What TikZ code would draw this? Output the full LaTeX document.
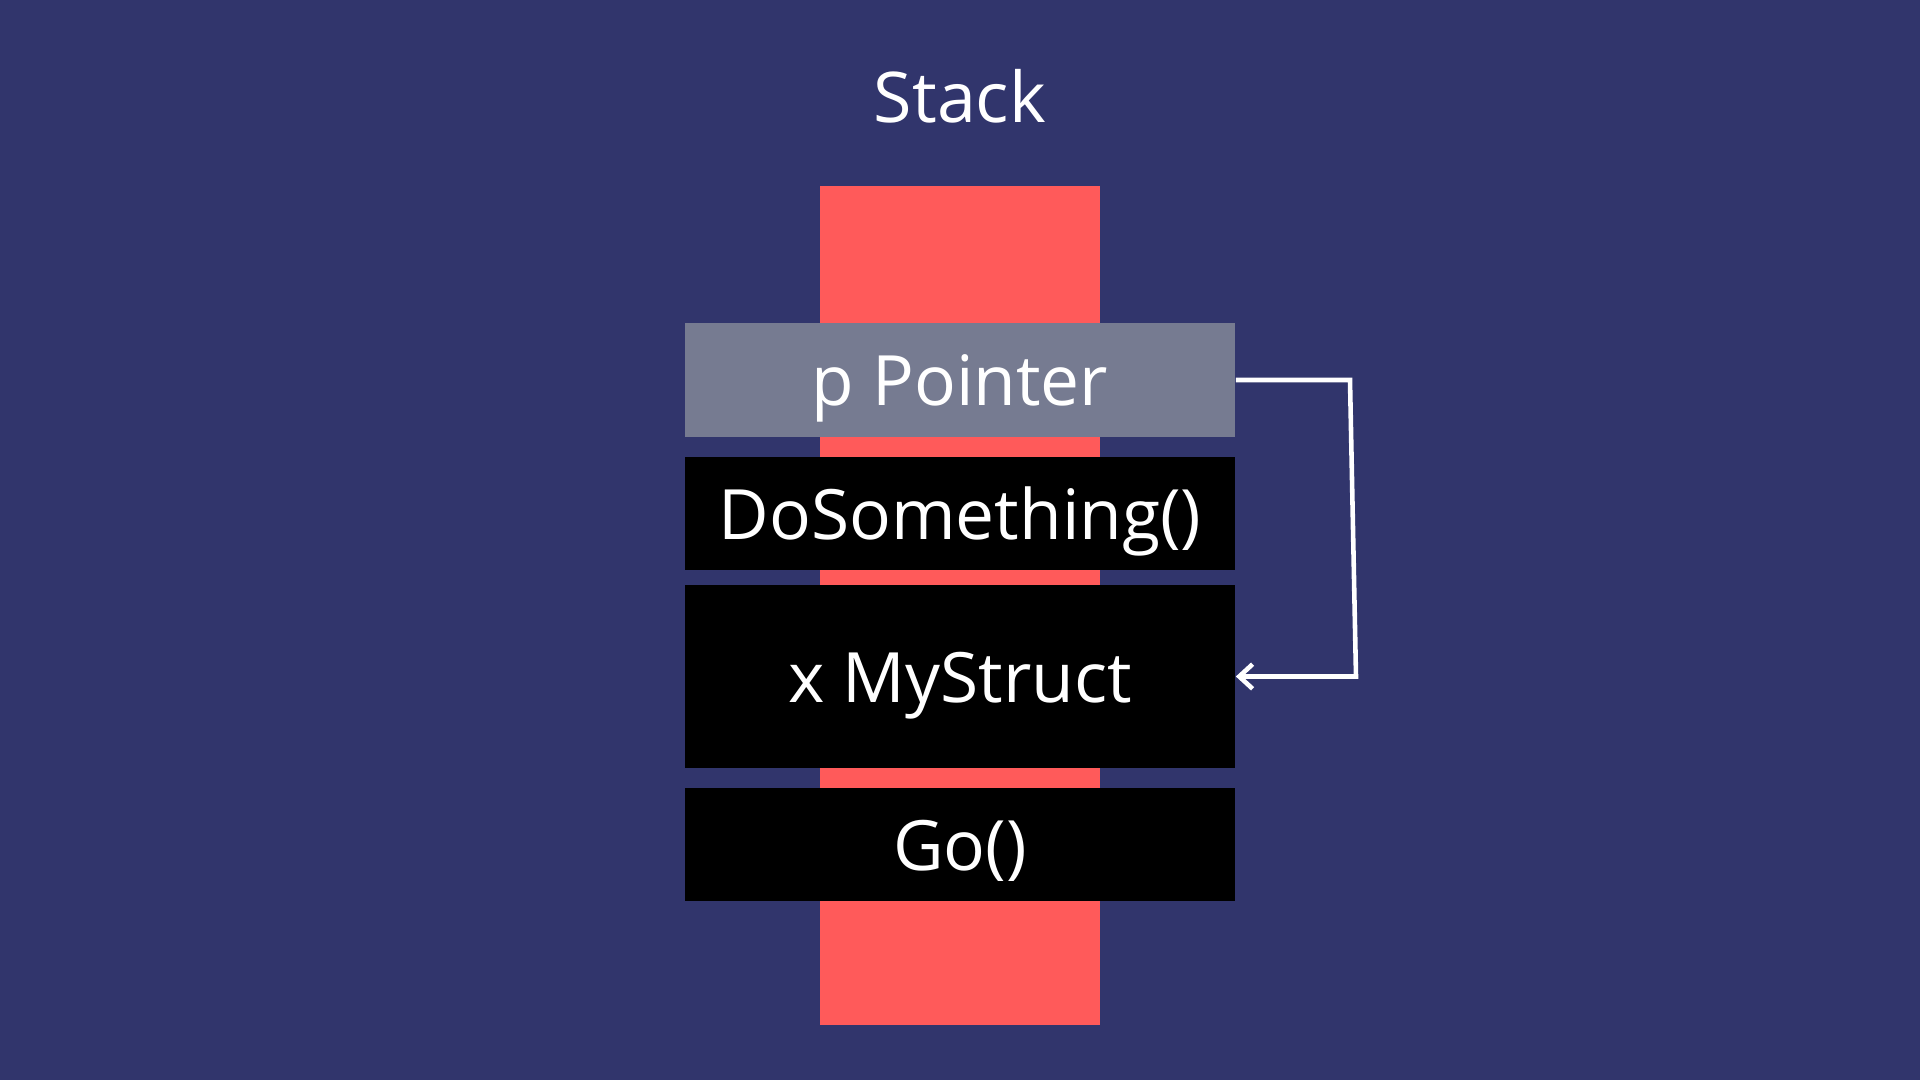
\documentclass[tikz,border=0pt]{standalone}
\usepackage{fontspec}
\setmainfont{Open Sans}
\usetikzlibrary{arrows.meta}
\definecolor{bgblue}{HTML}{31356C}
\definecolor{stackred}{HTML}{FF5A5A}
\definecolor{ptrgray}{HTML}{767B91}
\begin{document}
\begin{tikzpicture}[x=0.01cm, y=-0.01cm, >={Straight Barb[length=3.8pt, width=7pt]},
	frame/.style={rectangle, inner sep=0pt, minimum width=5.5cm, text=white,
		text height=0.51cm, text depth=0pt, font=\fontsize{19.75pt}{24pt}\selectfont},
	every node/.style={inner sep=0pt}]
				% 1. 背景 (固定画布尺寸)
				\fill[bgblue] (0,0) rectangle (1920,1080);
				\useasboundingbox (0,0) rectangle (1920,1080);
				
				% 2. 标题与栈条
				\node[text=white, text height=0.5cm, text depth=0pt, font=\fontsize{19.9pt}{24pt}\selectfont] (title) at (960,97) {Stack};
				\node[fill=stackred, minimum width=2.8cm, minimum height=8.39cm] (stackbar) at (960,605.5) {};
				
				% 3. 栈帧
				\node[frame, fill=ptrgray, minimum height=1.14cm] (pointer) at (960,380) {p Pointer};
				\node[frame, fill=black, minimum height=1.13cm] (dosomething) at (960,513.5) {DoSomething()};
				\node[frame, fill=black, minimum height=1.83cm] (mystruct) at (960,676.5) {x MyStruct};
				\node[frame, fill=black, minimum height=1.13cm] (go) at (960,844.5) {Go()};
				
				% 4. 指针连线
				\coordinate (bendtop) at (1350,380);
				\coordinate (bendbot) at (1356,676.5);
				\draw[white, line width=1.3pt, ->] (pointer.east) -- (bendtop) -- (bendbot) -- (mystruct.east);
			\end{tikzpicture}
\end{document}
